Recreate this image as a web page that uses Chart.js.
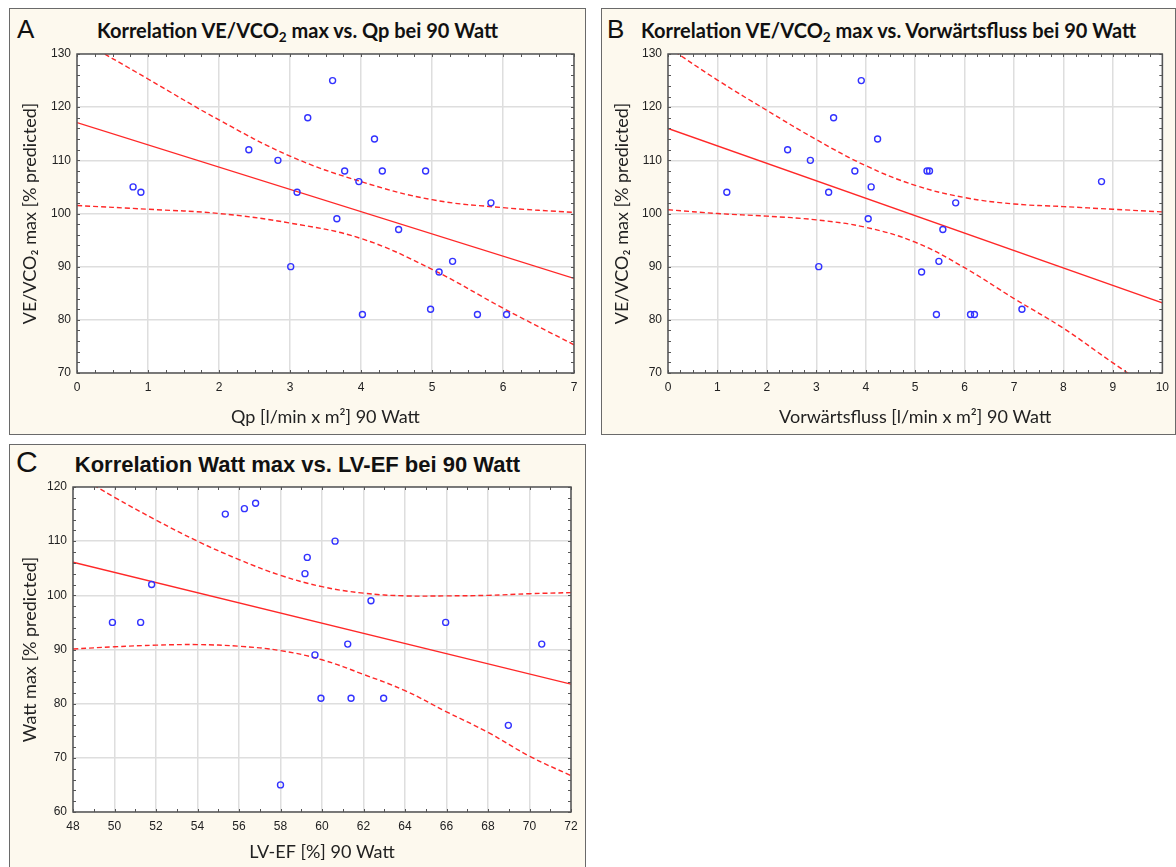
<!DOCTYPE html>
<html lang="de">
<head>
<meta charset="UTF-8">
<title>Korrelationen 90 Watt</title>
<script src="https://cdn.jsdelivr.net/npm/chart.js"></script>
<style>
    body { margin: 0; background: #fff; width: 1176px; height: 867px; position: relative; overflow: hidden; }
    .panel { position: absolute; box-sizing: border-box; background: #fdf9ee; border: 1.5px solid #6a6a6a; }
    .letter { position: absolute; font-family: "Liberation Sans", Arial, sans-serif; font-size: 26px; line-height: 26px; color: #111; }
    .head { position: absolute; text-align: center; font-family: Lato, sans-serif; font-weight: bold; font-size: 20px; line-height: 20px; color: #111; white-space: nowrap; }
    .head sub { font-size: 0.68em; vertical-align: -0.3em; line-height: 0; }
    canvas { position: absolute; }
</style>
</head>
<body>
    <div class="panel" style="left:9px; top:8px; width:577px; height:427px;"></div>
    <div class="panel" style="left:601px; top:8px; width:575px; height:427px;"></div>
    <div class="panel" style="left:9px; top:444px; width:577px; height:430px;"></div>

    <div class="letter" style="left:17px; top:16px;">A</div>
    <div class="letter" style="left:607px; top:16px;">B</div>
    <div class="letter" style="left:16px; top:447px; font-size:30px; line-height:30px;">C</div>

    <div class="head" style="left:9px; top:20px; width:577px;">Korrelation VE/VCO<sub>2</sub> max vs. Qp bei 90 Watt</div>
    <div class="head" style="left:601px; top:20px; width:575px;">Korrelation VE/VCO<sub>2</sub> max vs. Vorwärtsfluss bei 90 Watt</div>
    <div class="head" style="left:9px; top:454px; width:577px; font-family:'Liberation Sans', Arial, sans-serif; font-size:22px; line-height:22px;">Korrelation Watt max vs. LV-EF bei 90 Watt</div>

    <canvas id="chartA" style="left:9px; top:8px;" width="577" height="427"></canvas>
    <canvas id="chartB" style="left:601px; top:8px;" width="575" height="427"></canvas>
    <canvas id="chartC" style="left:9px; top:444px;" width="577" height="423"></canvas>

<script>
    // --- Panel A: VE/VCO2 max vs. Qp
    const qpX = [0.79, 0.90, 2.42, 2.83, 3.01, 3.10, 3.25, 3.60, 3.66, 3.77, 3.97, 4.02, 4.19, 4.30, 4.53, 4.91, 4.98, 5.10, 5.29, 5.64, 5.83, 6.05];
    const qpY = [105, 104, 112, 110, 90, 104, 118, 125, 99, 108, 106, 81, 114, 108, 97, 108, 82, 89, 91, 81, 102, 81];
    const fitAX = [0, 7];
    const fitAY = [117.1, 87.8];
    const bandAX = [0, 1, 2, 3, 4, 5, 6, 7];
    const bandAUp = [133, 125.3, 117.6, 110.8, 106, 102.6, 101.1, 100.2];
    const bandALo = [101.5, 100.8, 100.0, 98.2, 95.3, 89.5, 82.2, 75.3];

    // --- Panel B: VE/VCO2 max vs. Vorwärtsfluss
    const vfX = [1.19, 2.42, 2.88, 3.05, 3.25, 3.35, 3.78, 3.91, 4.05, 4.11, 4.24, 5.13, 5.24, 5.29, 5.43, 5.48, 5.56, 5.82, 6.12, 6.20, 7.16, 8.77];
    const vfY = [104, 112, 110, 90, 104, 118, 108, 125, 99, 105, 114, 89, 108, 108, 81, 91, 97, 102, 81, 81, 82, 106];
    const fitBX = [0, 10];
    const fitBY = [116.0, 83.2];
    const bandBX = [0, 1, 2, 3, 4, 5, 6, 7, 8, 9, 10];
    const bandBUp = [131.3, 125.1, 119.4, 113.9, 109.0, 105.3, 103.0, 101.8, 101.3, 100.8, 100.3];
    const bandBLo = [100.7, 100.0, 99.5, 98.8, 97.4, 94.6, 89.8, 84.0, 78.4, 71.9, 65.6];

    // --- Panel C: Watt max vs. LV-EF
    const efX = [49.9, 51.26, 51.79, 55.34, 56.26, 56.8, 58.0, 59.18, 59.29, 59.66, 59.95, 60.63, 61.24, 61.4, 62.36, 62.97, 65.96, 68.98, 70.59];
    const efY = [95, 95, 102, 115, 116, 117, 65, 104, 107, 89, 81, 110, 91, 81, 99, 81, 95, 76, 91];
    const fitCX = [48, 72];
    const fitCY = [106.1, 83.6];
    const bandCX = [48, 50, 52, 54, 56, 58, 60, 62, 64, 66, 68, 70, 72];
    const bandCUp = [122.6, 118.1, 113.9, 110.0, 106.6, 103.7, 101.6, 100.4, 99.9, 99.9, 100.0, 100.3, 100.5];
    const bandCLo = [90.1, 90.5, 90.8, 90.9, 90.6, 89.8, 88.1, 85.4, 82.4, 78.5, 74.7, 70.3, 66.7];

    const RED = 'rgb(255, 40, 40)';
    const BLUE = 'rgb(50, 50, 255)';
    const FRAME = '#555';

    function zip(xs, ys) {
        return xs.map((x, i) => ({ x: x, y: ys[i] }));
    }

    // white plot area, dark frame, small inward ticks on all four sides
    const framePlugin = {
        id: 'frameTicks',
        beforeDraw(chart) {
            const a = chart.chartArea;
            const ctx = chart.ctx;
            ctx.save();
            ctx.fillStyle = '#fff';
            ctx.fillRect(a.left, a.top, a.right - a.left, a.bottom - a.top);
            ctx.restore();
        },
        afterDatasetsDraw(chart, args, opts) {
            const a = chart.chartArea;
            const ctx = chart.ctx;
            const xs = chart.scales.x, ys = chart.scales.y;
            ctx.save();
            ctx.strokeStyle = FRAME;
            ctx.lineWidth = 1;
            ctx.beginPath();
            const nx = Math.round((xs.max - xs.min) / opts.xMinor);
            for (let i = 0; i <= nx; i++) {
                const px = Math.round(xs.getPixelForValue(xs.min + i * opts.xMinor)) + 0.5;
                ctx.moveTo(px, a.bottom); ctx.lineTo(px, a.bottom - 3);
                ctx.moveTo(px, a.top); ctx.lineTo(px, a.top + 3);
            }
            const ny = Math.round((ys.max - ys.min) / opts.yMinor);
            for (let i = 0; i <= ny; i++) {
                const py = Math.round(ys.getPixelForValue(ys.min + i * opts.yMinor)) + 0.5;
                ctx.moveTo(a.left, py); ctx.lineTo(a.left + 3, py);
                ctx.moveTo(a.right, py); ctx.lineTo(a.right - 3, py);
            }
            ctx.stroke();
            ctx.lineWidth = 1.5;
            ctx.strokeRect(a.left, a.top, a.right - a.left, a.bottom - a.top);
            ctx.restore();
        }
    };

    function makeChart(id, cfg) {
        const lineBase = { type: 'scatter', showLine: true, pointRadius: 0, borderColor: RED, borderWidth: 1.4, fill: false };
        return new Chart(document.getElementById(id), {
            type: 'scatter',
            data: {
                datasets: [
                    { data: zip(cfg.px, cfg.py), pointRadius: 3, pointBorderWidth: 1.4, pointBorderColor: BLUE, pointBackgroundColor: 'rgba(0,0,0,0)' },
                    Object.assign({}, lineBase, { data: zip(cfg.fx, cfg.fy) }),
                    Object.assign({}, lineBase, { data: zip(cfg.bx, cfg.bu), borderDash: [5, 3], tension: 0.4 }),
                    Object.assign({}, lineBase, { data: zip(cfg.bx, cfg.bl), borderDash: [5, 3], tension: 0.4 })
                ]
            },
            options: {
                responsive: false,
                animation: false,
                events: [],
                layout: { padding: { top: cfg.padTop, right: cfg.padRight, left: 0, bottom: 0 } },
                plugins: {
                    legend: { display: false },
                    tooltip: { enabled: false },
                    frameTicks: { xMinor: cfg.xMinor, yMinor: cfg.yMinor }
                },
                scales: {
                    x: {
                        type: 'linear', min: cfg.xMin, max: cfg.xMax,
                        afterFit(scale) { scale.height = cfg.xAxisH; },
                        ticks: { stepSize: cfg.xStep, color: '#222', padding: 7, font: { family: 'Liberation Sans', size: 12 } },
                        grid: { color: '#dedede', lineWidth: 1.5, drawTicks: false },
                        border: { display: false },
                        title: { display: true, text: cfg.xTitle, color: '#222', font: { family: 'Lato', size: 18 }, padding: { top: 0, bottom: cfg.xTitlePad } }
                    },
                    y: {
                        min: cfg.yMin, max: cfg.yMax,
                        afterFit(scale) { scale.width = cfg.yAxisW; },
                        ticks: { stepSize: 10, color: '#222', padding: 6, font: { family: 'Liberation Sans', size: 12 } },
                        grid: { color: '#dedede', lineWidth: 1.5, drawTicks: false },
                        border: { display: false },
                        title: { display: true, text: cfg.yTitle, color: '#222', font: { family: 'Lato', size: 18 }, padding: { top: cfg.yTitlePad, bottom: 0 } }
                    }
                }
            },
            plugins: [framePlugin]
        });
    }

    makeChart('chartA', {
        px: qpX, py: qpY, fx: fitAX, fy: fitAY, bx: bandAX, bu: bandAUp, bl: bandALo,
        xMin: 0, xMax: 7, xStep: 1, xMinor: 0.25, yMin: 70, yMax: 130, yMinor: 2,
        padTop: 46, padRight: 12, xAxisH: 62, yAxisW: 68, xTitlePad: 7, yTitlePad: 10,
        xTitle: 'Qp [l/min x m²] 90 Watt', yTitle: 'VE/VCO₂ max [% predicted]'
    });

    makeChart('chartB', {
        px: vfX, py: vfY, fx: fitBX, fy: fitBY, bx: bandBX, bu: bandBUp, bl: bandBLo,
        xMin: 0, xMax: 10, xStep: 1, xMinor: 0.25, yMin: 70, yMax: 130, yMinor: 2,
        padTop: 46, padRight: 12, xAxisH: 62, yAxisW: 67, xTitlePad: 7, yTitlePad: 10,
        xTitle: 'Vorwärtsfluss [l/min x m²] 90 Watt', yTitle: 'VE/VCO₂ max [% predicted]'
    });

    makeChart('chartC', {
        px: efX, py: efY, fx: fitCX, fy: fitCY, bx: bandCX, bu: bandCUp, bl: bandCLo,
        xMin: 48, xMax: 72, xStep: 2, xMinor: 1, yMin: 60, yMax: 120, yMinor: 2,
        padTop: 43, padRight: 15, xAxisH: 55, yAxisW: 64, xTitlePad: 4, yTitlePad: 10,
        xTitle: 'LV-EF [%] 90 Watt', yTitle: 'Watt max [% predicted]'
    });
</script>
</body>
</html>
